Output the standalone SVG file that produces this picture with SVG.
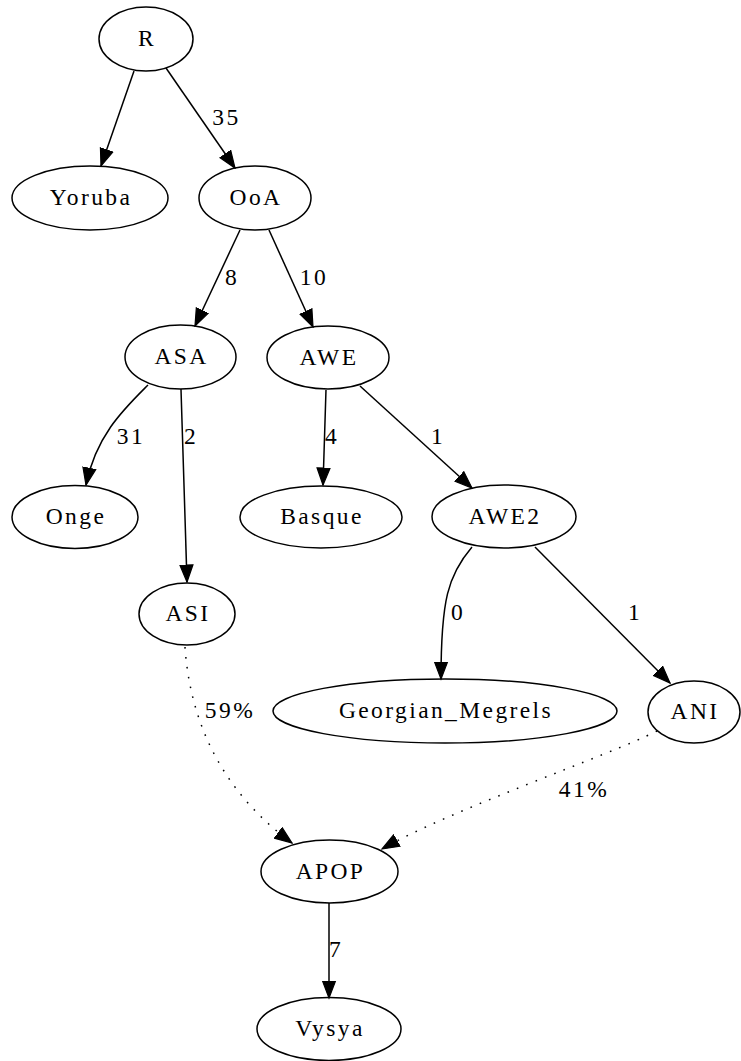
<svg xmlns="http://www.w3.org/2000/svg" width="741" height="1061" viewBox="0 0 741 1061">
<defs>
<marker id="arr" markerUnits="userSpaceOnUse" markerWidth="19" markerHeight="15" viewBox="0 -7.5 18 15" refX="17" refY="0" orient="auto">
<path d="M0,-6.5 L17,0 L0,6.5 Z" fill="#000" stroke="#000" stroke-width="1.2"/>
</marker>
</defs>
<style>
.node ellipse{fill:none;stroke:#000;stroke-width:1.5}
text{font-family:"Liberation Serif","Times New Roman",serif;font-size:23.5px;fill:#000;letter-spacing:2.4px;text-anchor:middle}
.edge path{fill:none;stroke:#000;stroke-width:1.5;marker-end:url(#arr)}
.edge path.dot{stroke-dasharray:1.6,8.4}
</style>
<rect width="741" height="1061" fill="#fff"/>
<g id="edges">
<g class="edge" id="e_R_Yoruba"><path d="M134,71 L101,166"/></g>
<g class="edge" id="e_R_OoA"><path d="M166,68 L235,168"/><text x="226.5" y="125">35</text></g>
<g class="edge" id="e_OoA_ASA"><path d="M240,230 L195,326"/><text x="232" y="285">8</text></g>
<g class="edge" id="e_OoA_AWE"><path d="M269,230 L313,327"/><text x="314" y="285">10</text></g>
<g class="edge" id="e_ASA_Onge"><path d="M148,385 C125,408 96,435 86,485"/><text x="131" y="444">31</text></g>
<g class="edge" id="e_ASA_ASI"><path d="M181,389 L187,582"/><text x="191" y="444">2</text></g>
<g class="edge" id="e_AWE_Basque"><path d="M326,390 L323,485"/><text x="332" y="444">4</text></g>
<g class="edge" id="e_AWE_AWE2"><path d="M360,386 L472,488"/><text x="438" y="444">1</text></g>
<g class="edge" id="e_AWE2_Georgian"><path d="M472,547 C448,575 441,600 441,679"/><text x="458" y="620">0</text></g>
<g class="edge" id="e_AWE2_ANI"><path d="M535,547 L670,683"/><text x="635" y="620">1</text></g>
<g class="edge" id="e_ASI_APOP"><path class="dot" d="M185,647 C190,720 220,790 292,843"/><text x="230" y="718">59%</text></g>
<g class="edge" id="e_ANI_APOP"><path class="dot" d="M657,731 C610,755 450,810 382,849"/><text x="584" y="797">41%</text></g>
<g class="edge" id="e_APOP_Vysya"><path d="M329,903 L329,998"/><text x="336" y="957">7</text></g>
</g>
<g class="node" id="n_R"><ellipse cx="146" cy="39" rx="47" ry="32"/><text x="147" y="46">R</text></g>
<g class="node" id="n_Yoruba"><ellipse cx="90" cy="198" rx="78" ry="32"/><text x="91" y="205">Yoruba</text></g>
<g class="node" id="n_OoA"><ellipse cx="255" cy="198" rx="56" ry="32"/><text x="256" y="205">OoA</text></g>
<g class="node" id="n_ASA"><ellipse cx="180.5" cy="357" rx="55.5" ry="32"/><text x="181.5" y="364">ASA</text></g>
<g class="node" id="n_AWE"><ellipse cx="328" cy="357.5" rx="61" ry="31.5"/><text x="329" y="364.5">AWE</text></g>
<g class="node" id="n_Onge"><ellipse cx="75" cy="517" rx="63" ry="31.5"/><text x="76" y="524">Onge</text></g>
<g class="node" id="n_Basque"><ellipse cx="321" cy="517" rx="81" ry="31"/><text x="322" y="524">Basque</text></g>
<g class="node" id="n_AWE2"><ellipse cx="504" cy="516.5" rx="72" ry="31.5"/><text x="505" y="523.5">AWE2</text></g>
<g class="node" id="n_ASI"><ellipse cx="187" cy="614" rx="48" ry="31"/><text x="188" y="621">ASI</text></g>
<g class="node" id="n_Georgian_Megrels"><ellipse cx="445" cy="711" rx="172" ry="32"/><text x="446" y="718">Georgian_Megrels</text></g>
<g class="node" id="n_ANI"><ellipse cx="694" cy="712" rx="46" ry="31"/><text x="695" y="719">ANI</text></g>
<g class="node" id="n_APOP"><ellipse cx="329.5" cy="871.5" rx="68.5" ry="31.5"/><text x="330.5" y="878.5">APOP</text></g>
<g class="node" id="n_Vysya"><ellipse cx="329" cy="1029" rx="72" ry="31.5"/><text x="330" y="1036">Vysya</text></g>
</svg>
